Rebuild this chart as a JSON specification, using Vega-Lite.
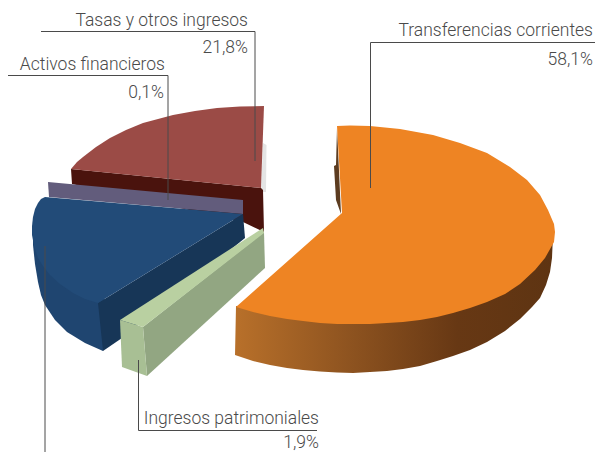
{
"$schema":"https://vega.github.io/schema/vega-lite/v6.json",
"width":595,"height":452,"padding":0,"autosize":"none",
"background":"white",
"config":{"view":{"stroke":null}},
"datasets":{
"orangeSide":[
{"n":1,"x":236,"y":306},{"n":2,"x":235,"y":355},{"n":3,"x":253,"y":361},{"n":4,"x":270,"y":365},{"n":5,"x":287,"y":368},{"n":6,"x":303,"y":370},{"n":7,"x":320,"y":371.5},{"n":8,"x":337,"y":372.5},{"n":9,"x":353,"y":373},{"n":10,"x":370,"y":372},{"n":11,"x":387,"y":371},{"n":12,"x":403,"y":369},{"n":13,"x":420,"y":366},{"n":14,"x":437,"y":361},{"n":15,"x":453,"y":356},{"n":16,"x":470,"y":350},{"n":17,"x":487,"y":342},{"n":18,"x":505,"y":331},{"n":19,"x":520,"y":319},{"n":20,"x":532,"y":307},{"n":21,"x":540,"y":298},{"n":22,"x":546,"y":285},{"n":23,"x":550,"y":272},{"n":24,"x":552,"y":258},{"n":25,"x":553,"y":235},{"n":26,"x":400,"y":300}
],
"faces":[
{"part":"l","n":1,"x":263,"y":143},{"part":"l","n":2,"x":266.5,"y":145},{"part":"l","n":3,"x":266,"y":192},{"part":"l","n":4,"x":261,"y":192},
{"part":"a","n":1,"x":71,"y":169},{"part":"a","n":2,"x":261,"y":188},{"part":"a","n":3,"x":263,"y":190},{"part":"a","n":4,"x":264,"y":232},{"part":"a","n":5,"x":243,"y":222},{"part":"a","n":6,"x":72,"y":184},
{"part":"b","n":1,"x":71,"y":169},{"part":"b","n":2,"x":77,"y":162},{"part":"b","n":3,"x":83,"y":157},{"part":"b","n":4,"x":96,"y":147},{"part":"b","n":5,"x":110,"y":138},{"part":"b","n":6,"x":126,"y":130},{"part":"b","n":7,"x":143,"y":123},{"part":"b","n":8,"x":158,"y":119},{"part":"b","n":9,"x":173,"y":115},{"part":"b","n":10,"x":195,"y":111},{"part":"b","n":11,"x":217,"y":108},{"part":"b","n":12,"x":240,"y":106.5},{"part":"b","n":13,"x":264,"y":106},{"part":"b","n":14,"x":261,"y":188},
{"part":"c","n":1,"x":48,"y":182},{"part":"c","n":2,"x":243,"y":200},{"part":"c","n":3,"x":243,"y":214},{"part":"c","n":4,"x":49,"y":197},
{"part":"d","n":1,"x":33,"y":225},{"part":"d","n":2,"x":33,"y":245},{"part":"d","n":3,"x":35,"y":264},{"part":"d","n":4,"x":38,"y":282},{"part":"d","n":5,"x":41,"y":295},{"part":"d","n":6,"x":45,"y":305},{"part":"d","n":7,"x":55,"y":320},{"part":"d","n":8,"x":67,"y":332},{"part":"d","n":9,"x":85,"y":343},{"part":"d","n":10,"x":103,"y":351},{"part":"d","n":11,"x":105,"y":300},
{"part":"e","n":1,"x":243,"y":214},{"part":"e","n":2,"x":245,"y":238},{"part":"e","n":3,"x":122,"y":338},{"part":"e","n":4,"x":103,"y":351},{"part":"e","n":5,"x":98,"y":303},
{"part":"f","n":1,"x":45,"y":197},{"part":"f","n":2,"x":243,"y":214},{"part":"f","n":3,"x":98,"y":303},{"part":"f","n":4,"x":85,"y":299},{"part":"f","n":5,"x":73,"y":293},{"part":"f","n":6,"x":60,"y":284},{"part":"f","n":7,"x":50,"y":275},{"part":"f","n":8,"x":43,"y":266},{"part":"f","n":9,"x":38,"y":258},{"part":"f","n":10,"x":34,"y":246},{"part":"f","n":11,"x":32,"y":235},{"part":"f","n":12,"x":32,"y":226},{"part":"f","n":13,"x":33,"y":217},{"part":"f","n":14,"x":35,"y":209},{"part":"f","n":15,"x":38,"y":203},{"part":"f","n":16,"x":41,"y":199},
{"part":"g","n":1,"x":143,"y":327},{"part":"g","n":2,"x":264,"y":232},{"part":"g","n":3,"x":265,"y":268},{"part":"g","n":4,"x":147,"y":376},
{"part":"h","n":1,"x":120,"y":320},{"part":"h","n":2,"x":143,"y":327},{"part":"h","n":3,"x":147,"y":376},{"part":"h","n":4,"x":122,"y":367},
{"part":"i","n":1,"x":120,"y":320},{"part":"i","n":2,"x":263,"y":228},{"part":"i","n":3,"x":264,"y":233},{"part":"i","n":4,"x":143,"y":327},
{"part":"j","n":1,"x":337,"y":128},{"part":"j","n":2,"x":336,"y":165},{"part":"j","n":3,"x":334,"y":166},{"part":"j","n":4,"x":336,"y":200},{"part":"j","n":5,"x":341,"y":214},
{"part":"k","n":1,"x":337,"y":126},{"part":"k","n":2,"x":350,"y":125.5},{"part":"k","n":3,"x":370,"y":126},{"part":"k","n":4,"x":400,"y":129},{"part":"k","n":5,"x":433,"y":135},{"part":"k","n":6,"x":460,"y":143},{"part":"k","n":7,"x":487,"y":153},{"part":"k","n":8,"x":510,"y":167},{"part":"k","n":9,"x":527,"y":180},{"part":"k","n":10,"x":540,"y":195},{"part":"k","n":11,"x":548,"y":210},{"part":"k","n":12,"x":554,"y":224},{"part":"k","n":13,"x":555,"y":232},{"part":"k","n":14,"x":554,"y":242},{"part":"k","n":15,"x":545,"y":258},{"part":"k","n":16,"x":535,"y":270},{"part":"k","n":17,"x":520,"y":284},{"part":"k","n":18,"x":505,"y":294},{"part":"k","n":19,"x":487,"y":302},{"part":"k","n":20,"x":470,"y":308},{"part":"k","n":21,"x":453,"y":313},{"part":"k","n":22,"x":437,"y":317},{"part":"k","n":23,"x":420,"y":320},{"part":"k","n":24,"x":403,"y":322},{"part":"k","n":25,"x":387,"y":323},{"part":"k","n":26,"x":370,"y":324},{"part":"k","n":27,"x":353,"y":324},{"part":"k","n":28,"x":337,"y":324},{"part":"k","n":29,"x":320,"y":323},{"part":"k","n":30,"x":303,"y":321},{"part":"k","n":31,"x":287,"y":319},{"part":"k","n":32,"x":270,"y":316},{"part":"k","n":33,"x":253,"y":312},{"part":"k","n":34,"x":236,"y":307},{"part":"k","n":35,"x":342,"y":213}
],
"leaders":[
{"id":"Tasas","n":1,"x":41,"y":31.5},{"id":"Tasas","n":2,"x":255,"y":31.5},{"id":"Tasas","n":3,"x":255,"y":161},
{"id":"Activos","n":1,"x":8,"y":75.5},{"id":"Activos","n":2,"x":168,"y":75.5},{"id":"Activos","n":3,"x":168,"y":200},
{"id":"Transf","n":1,"x":595,"y":42.5},{"id":"Transf","n":2,"x":370.5,"y":42.5},{"id":"Transf","n":3,"x":370.5,"y":188},
{"id":"Ingresos","n":1,"x":138.5,"y":360},{"id":"Ingresos","n":2,"x":138.5,"y":430.5},{"id":"Ingresos","n":3,"x":317,"y":430.5},
{"id":"Blue","n":1,"x":45,"y":246},{"id":"Blue","n":2,"x":45,"y":452}
],
"labels":[
{"t":"Tasas y otros ingresos","x":248,"y":26},{"t":"21,8%","x":248,"y":53},
{"t":"Activos financieros","x":165,"y":70},{"t":"0,1%","x":164,"y":98},
{"t":"Transferencias corrientes","x":593,"y":36},{"t":"58,1%","x":593,"y":65},
{"t":"Ingresos patrimoniales","x":319,"y":424},{"t":"1,9%","x":319,"y":448}
]
},
"layer":[
{"data":{"name":"orangeSide"},
 "mark":{"type":"line","filled":true,"strokeWidth":0,"fill":{"gradient":"linear","x1":0,"x2":1,"y1":0,"y2":0,"stops":[{"offset":0,"color":"#b8702a"},{"offset":0.35,"color":"#8f5420"},{"offset":0.7,"color":"#673814"},{"offset":1,"color":"#5e3412"}]}},
 "encoding":{"x":{"field":"x","type":"quantitative","scale":{"domain":[0,595],"nice":false,"zero":false},"axis":null},"y":{"field":"y","type":"quantitative","scale":{"domain":[452,0],"nice":false,"zero":false},"axis":null},"order":{"field":"n"}}},
{"data":{"name":"faces"},
 "mark":{"type":"line","filled":true,"strokeWidth":0},
 "encoding":{"x":{"field":"x","type":"quantitative","scale":{"domain":[0,595],"nice":false,"zero":false},"axis":null},"y":{"field":"y","type":"quantitative","scale":{"domain":[452,0],"nice":false,"zero":false},"axis":null},"order":{"field":"n"},
 "fill":{"field":"part","type":"nominal","legend":null,"scale":{"domain":["l","a","b","c","d","e","f","g","h","i","j","k"],"range":["#e4e4e4","#4a130d","#9b4b46","#625c7c","#1f4570","#173657","#224b78","#92a682","#a8bf94","#b9d0a1","#5c3c20","#ee8423"]}}}},
{"data":{"name":"leaders"},
 "mark":{"type":"line","stroke":"#4a4a4a","strokeWidth":1},
 "encoding":{"x":{"field":"x","type":"quantitative","scale":{"domain":[0,595],"nice":false,"zero":false},"axis":null},"y":{"field":"y","type":"quantitative","scale":{"domain":[452,0],"nice":false,"zero":false},"axis":null},"order":{"field":"n"},"detail":{"field":"id"}}},
{"data":{"name":"labels"},
 "mark":{"type":"text","align":"right","baseline":"alphabetic","font":"Roboto","fontWeight":300,"fontSize":17.5,"color":"#4a4a4a"},
 "encoding":{"x":{"field":"x","type":"quantitative","scale":{"domain":[0,595],"nice":false,"zero":false},"axis":null},"y":{"field":"y","type":"quantitative","scale":{"domain":[452,0],"nice":false,"zero":false},"axis":null},"text":{"field":"t"}}}
],
"resolve":{"scale":{"fill":"independent"}}
}
